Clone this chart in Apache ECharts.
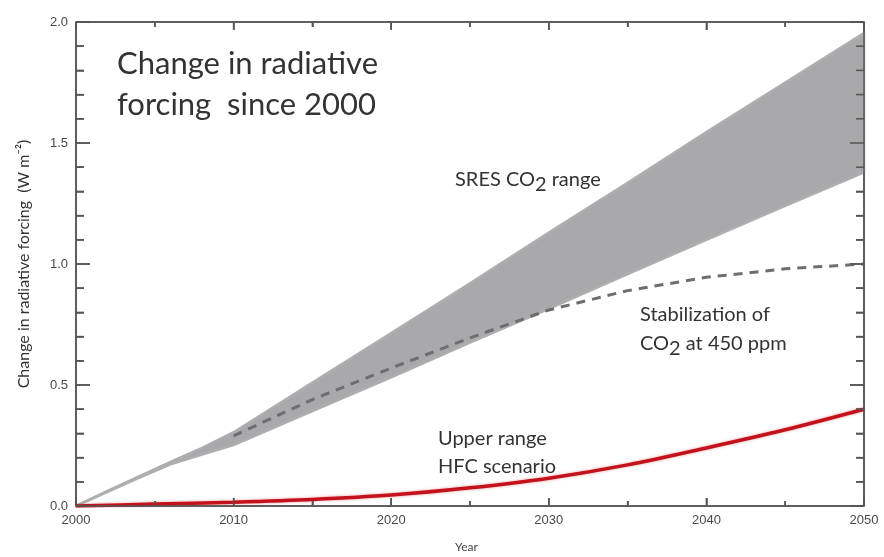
<!DOCTYPE html>
<html>
<head>
<meta charset="utf-8">
<script src="https://cdn.jsdelivr.net/npm/echarts@6/dist/echarts.min.js"></script>
<style>
html,body{margin:0;padding:0;background:#fff;}
#chart{width:884px;height:557px;}
</style>
</head>
<body>
<div id="chart"></div>
<script>
// ---- data ----
var years = [2000, 2002, 2004, 2006, 2008, 2010, 2015, 2020, 2025, 2030, 2035, 2040, 2045, 2050];
var sresUpper = [0, 0.062, 0.122, 0.182, 0.24, 0.305, 0.51, 0.715, 0.92, 1.13, 1.335, 1.545, 1.75, 1.955];
var sresLower = [0, 0.058, 0.116, 0.172, 0.213, 0.252, 0.392, 0.532, 0.675, 0.815, 0.958, 1.1, 1.24, 1.378];
var stabYears = [2010, 2015, 2020, 2025, 2030, 2035, 2040, 2045, 2050];
var stabValues = [0.29, 0.44, 0.57, 0.695, 0.81, 0.89, 0.945, 0.98, 1.0];
var hfcYears = [2000, 2005, 2010, 2015, 2020, 2025, 2030, 2035, 2040, 2045, 2050];
var hfcValues = [0.0, 0.008, 0.016, 0.027, 0.045, 0.075, 0.115, 0.17, 0.24, 0.315, 0.40];
var xMajorTicks = [2000, 2010, 2020, 2030, 2040, 2050];
var xMinorTicks = [2005, 2015, 2025, 2035, 2045];
var yMajorTicks = [0.0, 0.5, 1.0, 1.5, 2.0];
var yMinorTicks = [0.1, 0.2, 0.3, 0.4, 0.6, 0.7, 0.8, 0.9, 1.1, 1.2, 1.3, 1.4, 1.6, 1.7, 1.8, 1.9];

function pairs(xs, ys){ return xs.map(function(x,i){ return [x, ys[i]]; }); }

var AX = '#555';

function xAx(pos){
  return {type:'value', position:pos, min:2000, max:2050, interval:10,
    axisLine:{show:true, onZero:false, lineStyle:{color:AX, width:1.5}},
    axisTick:{show:true, inside:true, length:8, lineStyle:{color:AX, width:1.5}},
    minorTick:{show:true, splitNumber:2, length:5, lineStyle:{color:AX, width:1.5}},
    axisLabel:{show:pos==='bottom', color:'#4a4a4a', fontSize:13, formatter:function(v){return String(v);}},
    splitLine:{show:false}};
}
function yAx(pos){
  return {type:'value', position:pos, min:0, max:2, interval:0.5,
    axisLine:{show:true, onZero:false, lineStyle:{color:AX, width:1.5}},
    axisTick:{show:true, inside:true, length:14, lineStyle:{color:AX, width:1.5}},
    minorTick:{show:true, splitNumber:5, length:8, lineStyle:{color:AX, width:1.5}},
    axisLabel:{show:pos==='left', color:'#4a4a4a', fontSize:13, formatter:function(v){return v.toFixed(1);}},
    splitLine:{show:false}};
}

var upperPts = pairs(years, sresUpper);
var lowerPts = pairs(years, sresLower);

function seg(a, b){
  return {type:'line', shape:{x1:a[0], y1:a[1], x2:b[0], y2:b[1]}, style:{stroke:AX, lineWidth:1.5}};
}

var option = {
  animation:false,
  grid:{left:76, right:20, top:22, bottom:51, outerBoundsMode:'none'},
  xAxis:[xAx('bottom'), xAx('top')],
  yAxis:[yAx('left'), yAx('right')],
  series:[
    {type:'custom', data:[[0]], renderItem:function(p, api){
      var pts = [];
      upperPts.forEach(function(q){ pts.push(api.coord(q)); });
      for (var i = lowerPts.length-1; i >= 0; i--) pts.push(api.coord(lowerPts[i]));
      return {type:'polygon', shape:{points:pts}, style:{fill:'#a9a9ab', stroke:'#aeaeb0', lineWidth:2.5}};
    }},
    {type:'line', symbol:'none', data:pairs(stabYears, stabValues),
      lineStyle:{color:'#6e6e70', width:3, type:[9,7]}},
    {type:'line', symbol:'none', smooth:0.3, data:pairs(hfcYears, hfcValues),
      lineStyle:{color:'#c4121c', width:3.5, shadowColor:'rgba(220,60,60,0.5)', shadowBlur:3}},
    {type:'custom', data:[[0]], clip:false, z:6, silent:true, renderItem:function(p, api){
      var xmin = xMajorTicks[0], xmax = xMajorTicks[xMajorTicks.length-1];
      var ymin = yMajorTicks[0], ymax = yMajorTicks[yMajorTicks.length-1];
      var tl = api.coord([xmin, ymax]), br = api.coord([xmax, ymin]);
      var kids = [
        seg([tl[0], tl[1]], [br[0], tl[1]]), seg([br[0], tl[1]], [br[0], br[1]]),
        seg([tl[0], br[1]], [br[0], br[1]]), seg([tl[0], tl[1]], [tl[0], br[1]])
      ];
      function xt(v, len){ var c = api.coord([v, ymin]);
        kids.push(seg([c[0], br[1]], [c[0], br[1]-len])); kids.push(seg([c[0], tl[1]], [c[0], tl[1]+len])); }
      function yt(v, len){ var c = api.coord([xmin, v]);
        kids.push(seg([tl[0], c[1]], [tl[0]+len, c[1]])); kids.push(seg([br[0], c[1]], [br[0]-len, c[1]])); }
      xMajorTicks.forEach(function(v){ xt(v, 8); });
      xMinorTicks.forEach(function(v){ xt(v, 5); });
      yMajorTicks.forEach(function(v){ yt(v, 14); });
      yMinorTicks.forEach(function(v){ yt(v, 8); });
      return {type:'group', children:kids};
    }}
  ]
};
option.yAxis[0].name = 'Change in radiative forcing  (W m\u207B\u00B2)';
option.yAxis[0].nameLocation = 'middle';
option.yAxis[0].nameGap = 44;
option.yAxis[0].nameTextStyle = {color:'#333', fontSize:16, fontFamily:'Lato'};
option.graphic = [
  {type:'text', left:117, top:43, z:10, style:{text:'Change in radiative\nforcing  since 2000', fill:'#333', font:'31px Lato', lineHeight:41}},
  {type:'text', left:455, top:170, z:10, style:{text:'SRES CO{s|2} range', fill:'#333', font:'20px Lato',
    rich:{s:{fontSize:20, fontFamily:'Lato', padding:[10,0,0,0]}}}},
  {type:'text', left:640, top:300, z:10, style:{text:'Stabilization of\nCO{s|2} at 450 ppm', fill:'#333', font:'20px Lato', lineHeight:29,
    rich:{s:{fontSize:20, fontFamily:'Lato', padding:[10,0,0,0]}}}},
  {type:'text', left:438, top:425, z:10, style:{text:'Upper range\nHFC scenario', fill:'#333', font:'20px Lato', lineHeight:28}},
  {type:'text', left:455, top:541, z:10, style:{text:'Year', fill:'#444', font:'12px Lato'}}
];
echarts.init(document.getElementById('chart')).setOption(option);
</script>
</body>
</html>
